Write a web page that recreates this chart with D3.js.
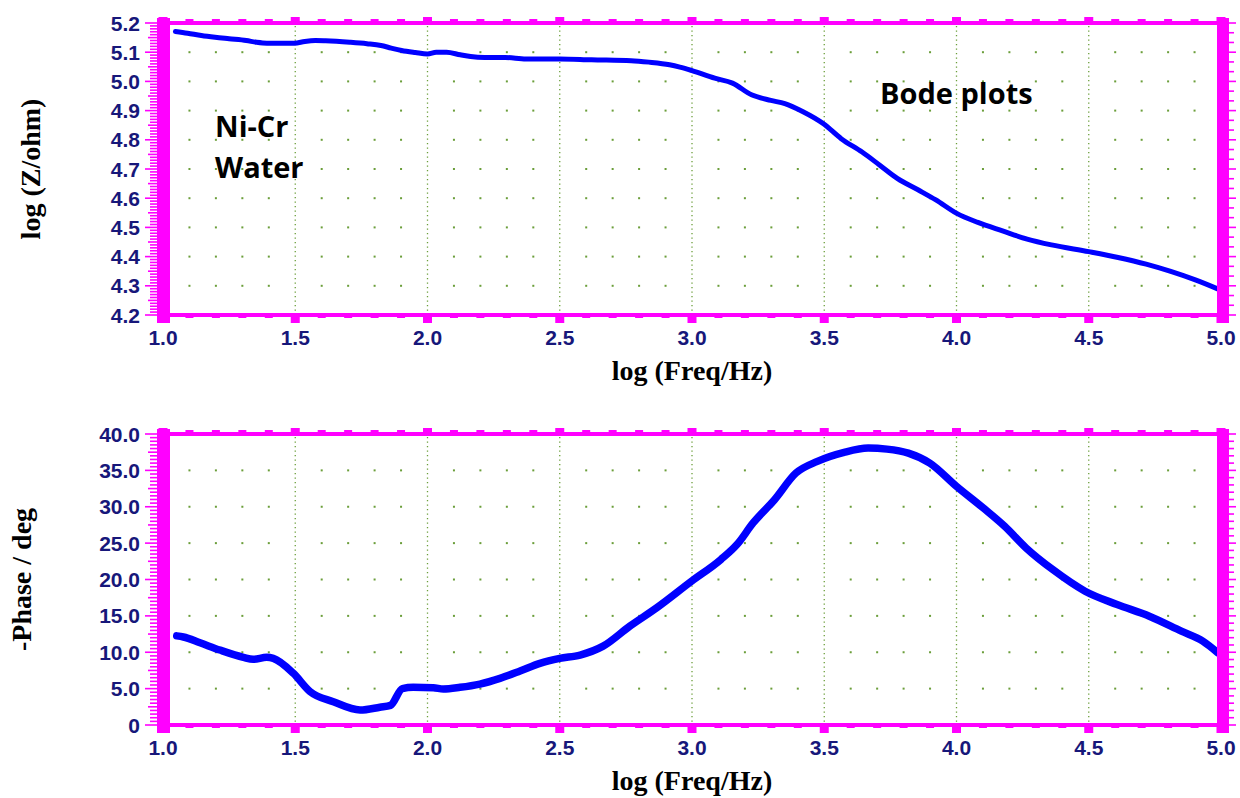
<!DOCTYPE html>
<html>
<head>
<meta charset="utf-8">
<script src="https://cdn.jsdelivr.net/npm/d3@7"></script>
<style>
  html, body { margin: 0; padding: 0; background: #fff; }
  svg { display: block; }
</style>
</head>
<body>
<svg id="chart" width="1240" height="798"></svg>
<script>
// ---------------- DATA ----------------
const xTickLabels = ["1.0", "1.5", "2.0", "2.5", "3.0", "3.5", "4.0", "4.5", "5.0"];
const zTickLabels = ["5.2", "5.1", "5.0", "4.9", "4.8", "4.7", "4.6", "4.5", "4.4", "4.3", "4.2"];
const phaseTickLabels = ["40.0", "35.0", "30.0", "25.0", "20.0", "15.0", "10.0", "5.0", "0"];

const logFreqZ = [1.047,1.093,1.145,1.197,1.25,1.315,1.354,1.393,1.497,1.536,1.576,1.615,1.706,1.771,1.824,1.863,1.902,1.954,2.0,2.033,2.072,2.124,2.163,2.216,2.294,2.372,2.5,2.62,2.77,2.837,2.915,2.954,3.0,3.086,3.153,3.225,3.298,3.351,3.418,3.497,3.564,3.643,3.71,3.776,3.856,3.922,4.001,4.081,4.174,4.267,4.359,4.5,4.611,4.717,4.81,4.903,4.996];
const logZ = [5.171,5.165,5.157,5.151,5.146,5.140,5.134,5.131,5.131,5.137,5.140,5.139,5.134,5.129,5.123,5.114,5.106,5.099,5.094,5.1,5.1,5.091,5.085,5.082,5.082,5.077,5.077,5.074,5.071,5.066,5.057,5.049,5.037,5.011,4.994,4.954,4.935,4.924,4.897,4.855,4.804,4.758,4.713,4.668,4.628,4.594,4.548,4.517,4.488,4.46,4.44,4.417,4.397,4.374,4.349,4.32,4.286];

const logFreqP = [1.052,1.077,1.14,1.215,1.304,1.341,1.392,1.417,1.493,1.556,1.644,1.745,1.82,1.86,1.905,1.946,2.022,2.06,2.123,2.198,2.274,2.35,2.425,2.5,2.577,2.664,2.765,2.866,2.998,3.109,3.17,3.231,3.312,3.393,3.474,3.575,3.666,3.737,3.818,3.899,4.0,4.101,4.182,4.263,4.364,4.486,4.607,4.729,4.85,4.931,4.988];
const phase = [12.25,12.1,11.3,10.3,9.3,9.03,9.3,9.16,7.1,4.6,3.2,2.06,2.45,2.7,5.0,5.18,5.13,4.95,5.18,5.63,6.41,7.42,8.48,9.16,9.62,10.84,13.59,16.1,19.76,22.74,24.8,27.77,30.97,34.63,36.23,37.47,38.06,37.92,37.37,36.0,32.8,29.83,27.31,24.34,21.36,18.39,16.56,14.96,12.9,11.53,9.93];

const xAxisTitle = "log (Freq/Hz)";
const zAxisTitle = "log (Z/ohm)";
const phaseAxisTitle = "-Phase / deg";
const noteTexts = ["Ni-Cr", "Water", "Bode plots"];
const noteX = [1.197, 1.197, 3.711];
const noteY = [4.81, 4.669, 4.923];

// ---------------- STYLE ----------------
const MAG = "#ff00ff", BLUE = "#0000ff", GRID = "#6b9e3a", NAVY = "#17177a";
const svg = d3.select("#chart");

function panel(cfg) {
  const x = d3.scaleLinear().domain([1, 5]).range([163, 1221]);
  const y = d3.scaleLinear().domain(cfg.domain).range([cfg.bottom, cfg.top]);
  const g = svg.append("g");
  const x0 = x(1), x1 = x(5), yT = cfg.top, yB = cfg.bottom;

  const minorX = d3.range(10, 51).map(d => d / 10);
  const majorX = xTickLabels.map(Number);
  const labelY = cfg.labels.map(Number);

  // grid: dotted verticals at majors
  g.append("g").selectAll("line").data(majorX.slice(1, -1)).join("line")
    .attr("x1", d => x(d)).attr("x2", d => x(d)).attr("y1", yT + 3).attr("y2", yB - 2)
    .attr("stroke", GRID).attr("stroke-width", 1.3).attr("stroke-dasharray", "1.3,3.2");
  // grid: dots at minor x / label y
  const dots = [];
  minorX.forEach(mx => {
    if (Math.abs(mx * 2 - Math.round(mx * 2)) < 1e-6) return;
    labelY.forEach(ly => { if (ly !== cfg.domain[0] && ly !== cfg.domain[1]) dots.push([mx, ly]); });
  });
  g.append("g").selectAll("rect").data(dots).join("rect")
    .attr("x", d => x(d[0]) - 1).attr("y", d => y(d[1]) - 1).attr("width", 2).attr("height", 2)
    .attr("fill", GRID);

  // data line
  const line = d3.line().x(d => x(d[0])).y(d => y(d[1])).curve(d3.curveMonotoneX);
  g.append("path").datum(cfg.xs.map((v, i) => [v, cfg.ys[i]]))
    .attr("d", line).attr("fill", "none").attr("stroke", BLUE)
    .attr("stroke-width", cfg.lw).attr("stroke-linejoin", "round").attr("stroke-linecap", "round");

  // frame: top/bottom lines
  const fr = g.append("g").attr("fill", MAG);
  fr.append("rect").attr("x", x0).attr("y", yT - 2).attr("width", x1 - x0).attr("height", 4);
  fr.append("rect").attr("x", x0).attr("y", yB - 2).attr("width", x1 - x0).attr("height", 4);
  // x ticks on top & bottom
  minorX.forEach(v => {
    const isMaj = Math.abs(v * 2 - Math.round(v * 2)) < 1e-6;
    const w = isMaj ? 9 : 8;
    fr.append("rect").attr("x", x(v) - w / 2).attr("y", yB).attr("width", w).attr("height", isMaj ? 8 : 3);
    fr.append("rect").attr("x", x(v) - w / 2).attr("y", yT - (isMaj ? 6 : 4)).attr("width", w).attr("height", isMaj ? 6 : 4);
  });
  // left / right thick bars
  fr.append("rect").attr("x", x0 - 6).attr("y", yT - 5).attr("width", 13).attr("height", yB - yT + 13);
  fr.append("rect").attr("x", x1 - 4).attr("y", yT - 5).attr("width", 12).attr("height", yB - yT + 13);

  // left minor ticks
  const [lo, hi] = cfg.domain;
  const nL = Math.round((hi - lo) / cfg.leftStep);
  for (let i = 0; i <= nL; i++) {
    const v = lo + i * cfg.leftStep;
    const isMaj = i % cfg.leftPerMajor === 0;
    const isHalf = i % (cfg.leftPerMajor / 2) === 0;
    const len = isMaj ? 12 : (isHalf ? 9 : 7);
    g.append("line").attr("x1", x0 - 6 - len).attr("x2", x0 - 6).attr("y1", y(v)).attr("y2", y(v))
      .attr("stroke", MAG).attr("stroke-width", 1.6);
  }
  const nR = Math.round((hi - lo) / cfg.rightStep);
  for (let i = 0; i <= nR; i++) {
    const v = lo + i * cfg.rightStep;
    const isMaj = i % cfg.rightPerMajor === 0;
    g.append("line").attr("x1", x1 + 8).attr("x2", x1 + 8 + (isMaj ? 7 : 5)).attr("y1", y(v)).attr("y2", y(v))
      .attr("stroke", MAG).attr("stroke-width", 1.6);
  }

  // tick labels
  g.append("g").selectAll("text").data(xTickLabels).join("text")
    .attr("x", d => x(+d)).attr("y", yB + 30).attr("text-anchor", "middle")
    .attr("font-family", "'Liberation Sans', Arial, sans-serif").attr("font-weight", "bold")
    .attr("font-size", 21).attr("fill", NAVY).text(d => d);
  g.append("g").selectAll("text").data(cfg.labels).join("text")
    .attr("x", 140).attr("y", d => y(+d) + 7.5).attr("text-anchor", "end")
    .attr("font-family", "'Liberation Sans', Arial, sans-serif").attr("font-weight", "bold")
    .attr("font-size", 21).attr("fill", NAVY).text(d => d);

  // axis titles
  g.append("text").attr("x", (x0 + x1) / 2).attr("y", yB + 65).attr("text-anchor", "middle")
    .attr("font-family", "'Liberation Serif', 'Times New Roman', serif").attr("font-weight", "bold")
    .attr("font-size", 28).attr("fill", "#000").text(xAxisTitle);
  g.append("text").attr("transform", `translate(${cfg.titleX},${(yT + yB) / 2}) rotate(-90)`)
    .attr("text-anchor", "middle")
    .attr("font-family", "'Liberation Serif', 'Times New Roman', serif").attr("font-weight", "bold")
    .attr("font-size", 28).attr("fill", "#000").text(cfg.title);

  return { x, y, g };
}

const zPanel = panel({
  domain: [4.2, 5.2], top: 23, bottom: 315, labels: zTickLabels,
  xs: logFreqZ, ys: logZ, lw: 5,
  leftStep: 0.01, leftPerMajor: 10, rightStep: 0.1 / 3, rightPerMajor: 3,
  title: zAxisTitle, titleX: 40
});
const pPanel = panel({
  domain: [0, 40], top: 434, bottom: 725, labels: phaseTickLabels,
  xs: logFreqP, ys: phase, lw: 7.5,
  leftStep: 0.5, leftPerMajor: 10, rightStep: 1, rightPerMajor: 5,
  title: phaseAxisTitle, titleX: 31
});

// annotations
zPanel.g.append("g").selectAll("text").data(noteTexts).join("text")
  .attr("x", (d, i) => zPanel.x(noteX[i])).attr("y", (d, i) => zPanel.y(noteY[i]))
  .attr("font-family", "'Open Sans', sans-serif").attr("font-weight", "bold")
  .attr("font-size", 29).attr("fill", "#000").text(d => d);
</script>
</body>
</html>
